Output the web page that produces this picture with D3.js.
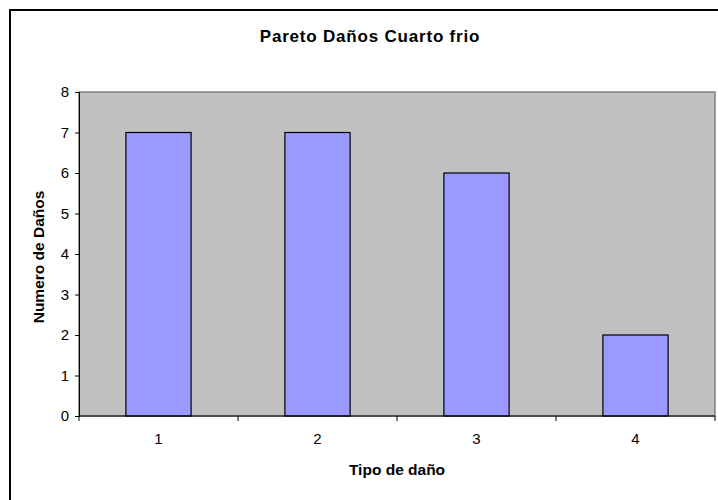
<!DOCTYPE html>
<html>
<head>
<meta charset="utf-8">
<script src="https://cdn.jsdelivr.net/npm/d3@7"></script>
<style>
  body { margin: 0; background: #fff; }
  svg { display: block; font-family: "Liberation Sans", Arial, sans-serif; }
</style>
</head>
<body>
<svg id="chart" width="718" height="500"></svg>
<script>
// Damage types and their counts
const categories = ["1", "2", "3", "4"];
const counts = [7, 7, 6, 2];
const yTicks = [0, 1, 2, 3, 4, 5, 6, 7, 8];

const svg = d3.select("#chart");
const W = 718, H = 500;
const plot = { left: 79, top: 92, right: 715, bottom: 416 };

// Outer chart frame
svg.append("rect")
  .attr("x", 10).attr("y", 10)
  .attr("width", W + 10).attr("height", H + 10)
  .attr("fill", "#fff").attr("stroke", "#000").attr("stroke-width", 2);

const x = d3.scaleBand().domain(categories).range([plot.left, plot.right]);
const y = d3.scaleLinear().domain([0, 8]).range([plot.bottom, plot.top]);

// Plot area background
svg.append("rect")
  .attr("x", plot.left).attr("y", plot.top)
  .attr("width", plot.right - plot.left).attr("height", plot.bottom - plot.top)
  .attr("fill", "#c0c0c0").attr("stroke", "#808080").attr("stroke-width", 1.5);

// Bars
const barW = x.bandwidth() * 0.41;
svg.selectAll("rect.bar").data(counts).join("rect")
  .attr("class", "bar")
  .attr("x", (d, i) => x(categories[i]) + (x.bandwidth() - barW) / 2)
  .attr("y", d => y(d))
  .attr("width", barW)
  .attr("height", d => y(0) - y(d))
  .attr("fill", "#9999ff").attr("stroke", "#000").attr("stroke-width", 1.2);

// Y axis
const yAxis = svg.append("g")
  .attr("transform", `translate(${plot.left},0)`)
  .call(d3.axisLeft(y).tickValues(yTicks).tickSize(4).tickPadding(6).tickFormat(d3.format("d")));
yAxis.select(".domain").attr("stroke", "#000");
yAxis.selectAll("text").attr("font-size", 15).attr("fill", "#000")
  .attr("font-family", "'Liberation Sans', Arial, sans-serif");

// X axis: ticks sit at category boundaries
const xAxisG = svg.append("g").attr("transform", `translate(0,${plot.bottom})`);
xAxisG.append("line")
  .attr("x1", plot.left).attr("x2", plot.right)
  .attr("stroke", "#000");
const bounds = categories.map(c => x(c)).concat([plot.right]);
xAxisG.selectAll("line.tk").data(bounds).join("line")
  .attr("class", "tk")
  .attr("x1", d => d).attr("x2", d => d)
  .attr("y1", 0).attr("y2", 5)
  .attr("stroke", "#000");
xAxisG.selectAll("text").data(categories).join("text")
  .attr("x", d => x(d) + x.bandwidth() / 2)
  .attr("y", 28)
  .attr("text-anchor", "middle")
  .attr("font-size", 15)
  .text(d => d);

// Titles
svg.append("text")
  .attr("x", 370).attr("y", 42)
  .attr("text-anchor", "middle")
  .attr("font-size", 17).attr("font-weight", "bold")
  .attr("letter-spacing", 0.8)
  .text("Pareto Daños Cuarto frio");

svg.append("text")
  .attr("x", 397).attr("y", 475)
  .attr("text-anchor", "middle")
  .attr("font-size", 15.5).attr("font-weight", "bold")
  .text("Tipo de daño");

svg.append("text")
  .attr("transform", "translate(44,257) rotate(-90)")
  .attr("text-anchor", "middle")
  .attr("font-size", 15.5).attr("font-weight", "bold")
  .text("Numero de Daños");
</script>
</body>
</html>
